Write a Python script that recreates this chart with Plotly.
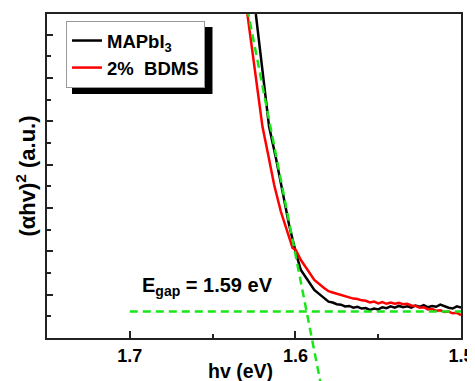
import plotly.graph_objects as go

# ---- data (photon energy in eV, (αhv)^2 in a.u.) ----
black_E = [1.6239, 1.6159, 1.6118, 1.6078, 1.6038, 1.5997, 1.5967, 1.5926, 1.5886,
           1.5835,
           1.5800, 1.5775, 1.5750, 1.5725, 1.5700, 1.5675, 1.5650, 1.5625, 1.5600,
           1.5575, 1.5550, 1.5525, 1.5500, 1.5475, 1.5450, 1.5425, 1.5400, 1.5375,
           1.5350, 1.5325, 1.5300, 1.5275, 1.5250, 1.5225, 1.5200, 1.5175, 1.5150,
           1.5125, 1.5100, 1.5075, 1.5050, 1.5025, 1.5000]
black_Y = [7.48, 4.88, 4.16, 3.38, 2.61, 1.96, 1.57, 1.34, 1.11,
           0.95,
           0.84, 0.82, 0.78, 0.77, 0.73, 0.74, 0.70, 0.72, 0.68,
           0.69, 0.65, 0.68, 0.66, 0.71, 0.69, 0.73, 0.70, 0.74,
           0.71, 0.73, 0.70, 0.75, 0.72, 0.76, 0.71, 0.74, 0.72,
           0.77, 0.73, 0.70, 0.68, 0.73, 0.70]

red_E = [1.6290, 1.6199, 1.6168, 1.6128, 1.6088, 1.6047, 1.6017, 1.5997, 1.5967,
         1.5926, 1.5886, 1.5825,
         1.5800, 1.5775, 1.5750, 1.5725, 1.5700, 1.5675, 1.5650, 1.5625, 1.5600,
         1.5575, 1.5550, 1.5525, 1.5500, 1.5475, 1.5450, 1.5425, 1.5400, 1.5375,
         1.5350, 1.5325, 1.5300, 1.5275, 1.5250, 1.5225, 1.5200, 1.5175, 1.5150,
         1.5125, 1.5100, 1.5075, 1.5050, 1.5025, 1.5000]
red_Y = [7.48, 4.88, 4.30, 3.53, 2.92, 2.45, 2.08, 2.03, 1.80,
         1.57, 1.34, 1.15,
         1.08, 1.05, 1.02, 0.99, 0.96, 0.93, 0.91, 0.90, 0.87,
         0.86, 0.82, 0.84, 0.80, 0.83, 0.79, 0.82, 0.79, 0.81,
         0.78, 0.79, 0.75, 0.74, 0.70, 0.71, 0.66, 0.67, 0.63,
         0.64, 0.60, 0.61, 0.57, 0.58, 0.53]

tangent_E = [1.6290, 1.5850]
tangent_Y = [7.60, -1.00]
baseline_E = [1.70, 1.50]
baseline_Y = [0.61, 0.61]

series_names = ["MAPbI<sub>3</sub>", "2%\u00a0\u00a0BDMS"]
x_tick_vals = [1.7, 1.6, 1.5]
x_tick_text = ["1.7", "1.6", "1.5"]
egap_label = "E<sub>gap</sub> = 1.59 eV"

X_RANGE = [1.75, 1.50]
Y_MAX = 7.48

# ---- layout geometry (page body has an 8px default margin) ----
OFF = 8
W, H = 475 - OFF, 381 - OFF
ML, MR, MT, MB = 47 - OFF, 475 - 461, 14 - OFF, 0
plot_w = W - ML - MR
plot_h = H - MT - MB
d0 = (381 - 338) / plot_h           # bottom of main y-domain (x-axis position)
y2_lo = Y_MAX - Y_MAX / (1 - d0)     # same scale, extended to the paper bottom


def px(sx):
    return (sx - 47) / plot_w


def py(sy):
    return (381 - sy) / plot_h


FONT = "Liberation Sans, Arial, sans-serif"
GREEN = "#19e619"
AXC = "#222222"
LEG_FS = 18.5

fig = go.Figure()
fig.add_trace(go.Scatter(x=black_E, y=black_Y, mode="lines", name=series_names[0],
                         line=dict(color="black", width=2.5), legendgroup="a",
                         xaxis="x", yaxis="y"))
fig.add_trace(go.Scatter(x=red_E, y=red_Y, mode="lines", name=series_names[1],
                         line=dict(color="#ff0000", width=2.5), legendgroup="b",
                         xaxis="x", yaxis="y"))
fig.add_trace(go.Scatter(x=baseline_E, y=baseline_Y, mode="lines", showlegend=False,
                         line=dict(color=GREEN, width=2.5, dash="8px,5px"),
                         xaxis="x", yaxis="y"))
fig.add_trace(go.Scatter(x=tangent_E, y=tangent_Y, mode="lines", showlegend=False,
                         line=dict(color=GREEN, width=2.5, dash="8px,5px"),
                         xaxis="x2", yaxis="y2"))

LEG_TOP = 21
fig.update_layout(
    width=W, height=H,
    margin=dict(l=ML, r=MR, t=MT, b=MB, autoexpand=False),
    paper_bgcolor="white", plot_bgcolor="rgba(0,0,0,0)",
    font=dict(family=FONT, size=18, color="black", weight="bold"),
    xaxis=dict(range=X_RANGE, domain=[0, 1], anchor="y",
               tickmode="array", tickvals=x_tick_vals, ticktext=x_tick_text,
               ticks="inside", ticklen=7, tickwidth=1.5, tickcolor=AXC,
               minor=dict(dtick=0.05, ticks="inside", ticklen=4, tickwidth=1.5, tickcolor=AXC),
               showline=True, linewidth=2, linecolor=AXC, mirror=True,
               showgrid=False, zeroline=False,
               tickfont=dict(size=18, family=FONT, weight="bold")),
    yaxis=dict(range=[0, Y_MAX], domain=[d0, 1], anchor="x",
               tickmode="linear", tick0=0, dtick=1,
               ticks="inside", ticklen=6, tickwidth=1.5, tickcolor=AXC,
               minor=dict(dtick=0.5, ticks="inside", ticklen=4, tickwidth=1.5, tickcolor=AXC),
               showticklabels=False,
               showline=True, linewidth=2, linecolor=AXC, mirror=True,
               showgrid=False, zeroline=False,
               title=dict(text="(αhv)<sup>2</sup> (a.u.)", standoff=3,
                          font=dict(size=22, family=FONT, weight="bold"))),
    xaxis2=dict(range=X_RANGE, domain=[0, 1], anchor="y2", visible=False),
    yaxis2=dict(range=[y2_lo, Y_MAX], domain=[0, 1], anchor="x2", visible=False),
    legend=dict(x=px(66), y=py(LEG_TOP), xanchor="left", yanchor="top",
                bgcolor="white", bordercolor="#999999", borderwidth=1,
                font=dict(size=LEG_FS, family=FONT, weight="bold"),
                traceorder="grouped", tracegroupgap=0),
    showlegend=True,
)

# x-axis title (slightly left of centre, as in the original)
fig.add_annotation(text="hv (eV)", xref="paper", yref="paper",
                   x=px(240), y=py(371),
                   xanchor="center", yanchor="middle", showarrow=False,
                   font=dict(size=19.5, family=FONT, weight="bold"))

# E_gap label
fig.add_annotation(text=egap_label, xref="x", yref="y",
                   x=1.6936, y=1.18, xanchor="left", yanchor="middle",
                   showarrow=False, font=dict(size=20, family=FONT, weight="bold"))

# legend drop shadow (legend box: 2 items of 1.3*fs+3 px plus 12 px padding)
leg_h = 2 * (1.3 * LEG_FS + 3) + 12
leg_right = 66 + 47 + 4.945 * LEG_FS
fig.add_shape(type="rect", xref="paper", yref="paper",
              x0=px(72), x1=px(leg_right + 8),
              y0=py(LEG_TOP + leg_h + 7), y1=py(LEG_TOP + 6),
              fillcolor="black", line=dict(width=0), layer="above")

fig.write_html("out.html")
